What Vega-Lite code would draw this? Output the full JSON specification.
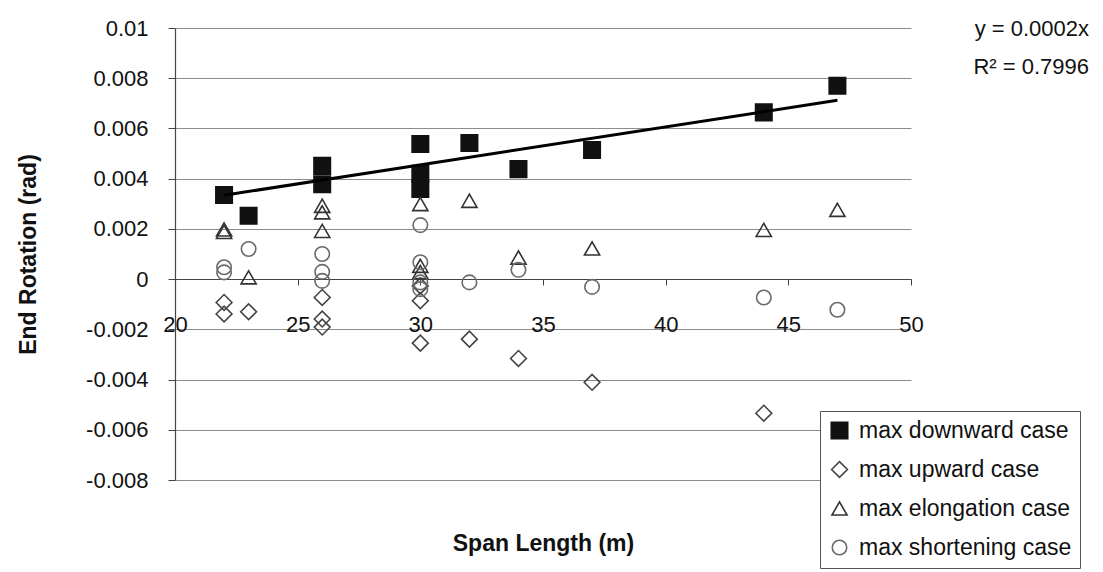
{
  "$schema": "https://vega.github.io/schema/vega-lite/v6.json",
  "width": 736,
  "height": 452,
  "autosize": {"type": "none"},
  "padding": {"left": 175, "top": 28, "right": 192, "bottom": 92},
  "background": "white",
  "config": {
    "view": {"stroke": null},
    "font": "Liberation Sans",
    "axis": {"labelFont": "Liberation Sans", "titleFont": "Liberation Sans", "labelColor": "#111", "titleColor": "#111"}
  },
  "title": {
    "text": ["y = 0.0002x", "R² = 0.7996"],
    "orient": "top",
    "anchor": "end",
    "frame": "group",
    "offset": 0,
    "dx": 178,
    "dy": 62,
    "baseline": "top",
    "fontSize": 22,
    "fontWeight": "normal",
    "font": "Liberation Sans",
    "color": "#111",
    "lineHeight": 38
  },
  "datasets": {
    "points": [
      {"span": 22, "rot": 0.00335, "series": "max downward case"},
      {"span": 23, "rot": 0.00252, "series": "max downward case"},
      {"span": 26, "rot": 0.00451, "series": "max downward case"},
      {"span": 26, "rot": 0.00378, "series": "max downward case"},
      {"span": 30, "rot": 0.00538, "series": "max downward case"},
      {"span": 30, "rot": 0.0042, "series": "max downward case"},
      {"span": 30, "rot": 0.00359, "series": "max downward case"},
      {"span": 32, "rot": 0.00542, "series": "max downward case"},
      {"span": 34, "rot": 0.00438, "series": "max downward case"},
      {"span": 37, "rot": 0.00514, "series": "max downward case"},
      {"span": 44, "rot": 0.00664, "series": "max downward case"},
      {"span": 47, "rot": 0.0077, "series": "max downward case"},
      {"span": 22, "rot": -0.00093, "series": "max upward case"},
      {"span": 22, "rot": -0.00139, "series": "max upward case"},
      {"span": 23, "rot": -0.0013, "series": "max upward case"},
      {"span": 26, "rot": -0.00073, "series": "max upward case"},
      {"span": 26, "rot": -0.00159, "series": "max upward case"},
      {"span": 26, "rot": -0.00191, "series": "max upward case"},
      {"span": 30, "rot": -0.00027, "series": "max upward case"},
      {"span": 30, "rot": -0.00086, "series": "max upward case"},
      {"span": 30, "rot": -0.00255, "series": "max upward case"},
      {"span": 32, "rot": -0.00239, "series": "max upward case"},
      {"span": 34, "rot": -0.00316, "series": "max upward case"},
      {"span": 37, "rot": -0.00411, "series": "max upward case"},
      {"span": 44, "rot": -0.00534, "series": "max upward case"},
      {"span": 22, "rot": 0.00188, "series": "max elongation case"},
      {"span": 22, "rot": 0.00198, "series": "max elongation case"},
      {"span": 23, "rot": 0.00007, "series": "max elongation case"},
      {"span": 26, "rot": 0.00292, "series": "max elongation case"},
      {"span": 26, "rot": 0.00266, "series": "max elongation case"},
      {"span": 26, "rot": 0.00192, "series": "max elongation case"},
      {"span": 30, "rot": 0.00299, "series": "max elongation case"},
      {"span": 30, "rot": 0.00053, "series": "max elongation case"},
      {"span": 30, "rot": 0.00028, "series": "max elongation case"},
      {"span": 32, "rot": 0.00312, "series": "max elongation case"},
      {"span": 34, "rot": 0.00086, "series": "max elongation case"},
      {"span": 37, "rot": 0.00122, "series": "max elongation case"},
      {"span": 44, "rot": 0.00196, "series": "max elongation case"},
      {"span": 47, "rot": 0.00276, "series": "max elongation case"},
      {"span": 22, "rot": 0.00047, "series": "max shortening case"},
      {"span": 22, "rot": 0.00027, "series": "max shortening case"},
      {"span": 23, "rot": 0.0012, "series": "max shortening case"},
      {"span": 26, "rot": 0.001, "series": "max shortening case"},
      {"span": 26, "rot": 0.00029, "series": "max shortening case"},
      {"span": 26, "rot": -0.00007, "series": "max shortening case"},
      {"span": 30, "rot": 0.00215, "series": "max shortening case"},
      {"span": 30, "rot": 0.00067, "series": "max shortening case"},
      {"span": 30, "rot": -0.00013, "series": "max shortening case"},
      {"span": 30, "rot": -0.0004, "series": "max shortening case"},
      {"span": 32, "rot": -0.00013, "series": "max shortening case"},
      {"span": 34, "rot": 0.00037, "series": "max shortening case"},
      {"span": 37, "rot": -0.00031, "series": "max shortening case"},
      {"span": 44, "rot": -0.00073, "series": "max shortening case"},
      {"span": 47, "rot": -0.00122, "series": "max shortening case"}
    ],
    "trend": [
      {"span": 22, "rot": 0.00334},
      {"span": 47, "rot": 0.00712}
    ]
  },
  "encoding": {
    "x": {
      "field": "span", "type": "quantitative",
      "scale": {"domain": [20, 50], "nice": false, "zero": false},
      "axis": {
        "title": "Span Length (m)",
        "values": [20, 25, 30, 35, 40, 45, 50],
        "offset": -201,
        "grid": false,
        "domainColor": "#444",
        "domainWidth": 1.2,
        "tickColor": "#444",
        "tickSize": 6,
        "labelPadding": 29,
        "labelFontSize": 22,
        "labelFlush": false,
        "labelOverlap": false,
        "titleFontSize": 23,
        "titleFontWeight": "bold",
        "titlePadding": 197
      }
    },
    "y": {
      "field": "rot", "type": "quantitative",
      "scale": {"domain": [-0.008, 0.01], "nice": false, "zero": false},
      "axis": {
        "title": "End Rotation (rad)",
        "values": [-0.008, -0.006, -0.004, -0.002, 0, 0.002, 0.004, 0.006, 0.008, 0.01],
        "labelExpr": "replace(format(datum.value, '~g'), '−', '-')",
        "grid": true,
        "gridColor": "#8c8c8c",
        "gridWidth": 1,
        "domainColor": "#444",
        "domainWidth": 1.2,
        "tickColor": "#444",
        "tickSize": 7,
        "labelPadding": 20,
        "labelFontSize": 22,
        "labelFlush": false,
        "labelOverlap": false,
        "titleFontSize": 23,
        "titleFontWeight": "bold",
        "titlePadding": 45
      }
    }
  },
  "layer": [
    {
      "data": {"name": "points"},
      "mark": {"type": "point", "strokeWidth": 1.6, "opacity": 1},
      "encoding": {
        "shape": {
          "field": "series", "type": "nominal",
          "scale": {
            "domain": ["max downward case", "max upward case", "max elongation case", "max shortening case"],
            "range": ["square", "diamond", "triangle-up", "circle"]
          },
          "legend": {
            "title": null,
            "orient": "none",
            "legendX": 645,
            "legendY": 383,
            "padding": 8,
            "strokeColor": "#555",
            "fillColor": "white",
            "labelFont": "Liberation Sans",
            "labelFontSize": 23,
            "labelColor": "#111",
            "labelOffset": 8,
            "rowPadding": 15,
            "symbolStrokeWidth": 1.6,
            "labelLimit": 400
          }
        },
        "fill": {
          "field": "series", "type": "nominal",
          "scale": {
            "domain": ["max downward case", "max upward case", "max elongation case", "max shortening case"],
            "range": ["#111111", "transparent", "transparent", "transparent"]
          }
        },
        "stroke": {
          "field": "series", "type": "nominal",
          "scale": {
            "domain": ["max downward case", "max upward case", "max elongation case", "max shortening case"],
            "range": ["#111111", "#444444", "#333333", "#6a6a6a"]
          }
        },
        "size": {
          "field": "series", "type": "nominal",
          "scale": {
            "domain": ["max downward case", "max upward case", "max elongation case", "max shortening case"],
            "range": [270, 210, 230, 170]
          }
        }
      }
    },
    {
      "data": {"name": "trend"},
      "mark": {"type": "line", "color": "#000", "strokeWidth": 3},
      "encoding": {}
    }
  ]
}
